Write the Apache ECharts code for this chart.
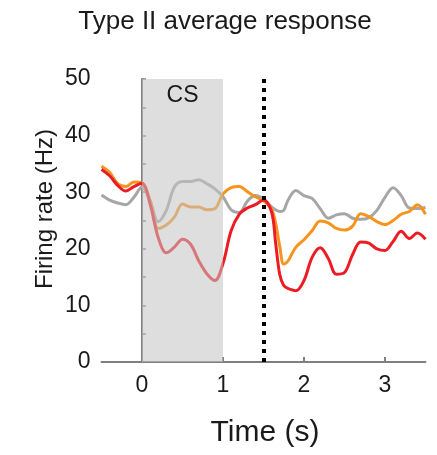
<!DOCTYPE html>
<html>
<head>
<meta charset="utf-8">
<script src="https://cdn.jsdelivr.net/npm/echarts@6/dist/echarts.min.js"></script>
<style>
html,body{margin:0;padding:0;background:#fff;}
#chart{width:437px;height:455px;}
</style>
</head>
<body>
<div id="chart"></div>
<script>
const titleText = 'Type II average response';
const xName = 'Time (s)';
const yName = 'Firing rate (Hz)';
const xTicks = [0, 1, 2, 3];
const csRange = [0, 1];
const csLabel = 'CS';
const usTime = 1.5;

const time = [-0.5,-0.4,-0.3,-0.2,-0.1,0,0.1,0.2,0.3,0.4,0.5,0.6,0.7,0.8,0.9,1.0,1.1,1.2,1.3,1.4,1.5,1.6,1.65,1.7,1.75,1.8,1.9,2.0,2.1,2.2,2.3,2.4,2.5,2.6,2.7,2.8,2.9,3.0,3.1,3.2,3.3,3.4,3.5];

const red = [34.0,32.9,31.2,30.2,31.0,31.6,27.9,22.0,19.3,20.3,21.7,20.8,17.9,15.6,14.4,17.4,23.2,26.1,27.2,27.8,28.6,26.5,21.0,15.5,13.5,13.0,12.6,14.4,18.5,20.2,18.3,15.5,15.8,19.0,21.2,21.0,20.0,19.7,21.3,23.1,21.8,22.8,21.7];

const orange = [34.6,33.5,31.5,31.0,31.8,31.6,28.5,23.6,24.2,25.6,27.9,27.4,27.4,26.9,27.1,29.7,30.8,31.0,30.1,29.2,28.5,27.0,24.5,20.5,17.3,17.8,20.3,21.6,23.2,24.9,24.6,23.6,23.3,24.0,26.2,25.7,24.8,24.3,25.0,26.1,26.6,27.8,26.1];

const grey = [29.5,28.6,28.1,27.8,29.1,30.9,28.5,24.8,26.8,30.9,31.9,31.9,32.2,31.5,30.6,29.2,26.9,26.4,28.4,29.4,28.8,27.4,26.9,26.6,26.8,28.5,30.3,29.4,28.9,27.1,25.4,26.0,26.2,25.4,25.2,25.5,26.8,29.1,30.8,29.4,27.2,27.1,27.3];

const font = '"Liberation Sans", Arial, sans-serif';
const pair = arr => time.map((t, i) => [t, arr[i]]);

const chart = echarts.init(document.getElementById('chart'), null, {renderer: 'canvas'});
chart.setOption({
  animation: false,
  backgroundColor: '#fff',
  grid: {left: 101.5, right: 11.5, top: 79, bottom: 93},
  graphic: [
    {type: 'text', x: 225, y: 22, style: {text: titleText, font: '26px ' + font, fill: '#1a1a1a', textAlign: 'center', textVerticalAlign: 'middle'}},
    {type: 'text', x: 265, y: 433, style: {text: xName, font: '30px ' + font, fill: '#1a1a1a', textAlign: 'center', textVerticalAlign: 'middle'}},
    {type: 'text', x: 45, y: 209, rotation: Math.PI / 2, style: {text: yName, font: '24px ' + font, fill: '#1a1a1a', textAlign: 'center', textVerticalAlign: 'middle'}}
  ],
  xAxis: {
    type: 'value', min: -0.5, max: 3.5,
    axisLine: {show: true, lineStyle: {color: '#808080', width: 2}},
    axisTick: {show: true, inside: true, length: 5, customValues: xTicks, lineStyle: {color: '#808080', width: 2}},
    axisLabel: {customValues: xTicks, fontSize: 23, color: '#1a1a1a', fontFamily: font, margin: 12},
    splitLine: {show: false}
  },
  yAxis: {
    type: 'value', min: 0, max: 50, interval: 10,
    axisLine: {show: true, lineStyle: {color: '#808080', width: 2}},
    axisTick: {show: true, inside: true, length: 4, lineStyle: {color: '#808080', width: 1.5}},
    minorTick: {show: true, splitNumber: 2, length: 4, lineStyle: {color: '#808080', width: 1.5}},
    axisLabel: {fontSize: 23, color: '#1a1a1a', fontFamily: font, margin: 11},
    splitLine: {show: false}
  },
  series: [
    {type: 'line', data: pair(grey), smooth: 0.35, showSymbol: false, lineStyle: {color: '#a6a6a6', width: 3}, z: 2},
    {type: 'line', data: pair(orange), smooth: 0.35, showSymbol: false, lineStyle: {color: '#f7941d', width: 3}, z: 3},
    {type: 'line', data: pair(red), smooth: 0.35, showSymbol: false, lineStyle: {color: '#ed1c24', width: 3}, z: 4,
      markLine: {
        silent: true, symbol: ['none', 'none'], label: {show: false}, z: 12,
        lineStyle: {color: '#000', width: 4, type: [4, 5]},
        data: [{xAxis: usTime}]
      }
    },
    {
      type: 'line', data: [], z: 10,
      markArea: {
        silent: true, z: 10,
        itemStyle: {color: 'rgba(195,195,195,0.55)'},
        label: {show: true, position: 'insideTop', distance: 5, color: '#1a1a1a', fontSize: 23, fontFamily: font},
        data: [[{xAxis: csRange[0], yAxis: 0, name: csLabel}, {xAxis: csRange[1], yAxis: 50}]]
      }
    }
  ]
});
</script>
</body>
</html>
